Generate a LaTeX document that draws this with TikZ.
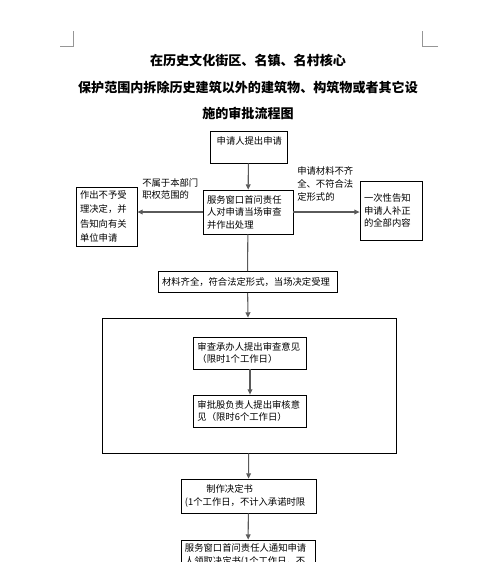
\documentclass[tikz,border=0pt]{standalone}
\usepackage{fontspec}
\newfontfamily\cjk{Noto Sans CJK SC}
\definecolor{linegray}{RGB}{90,90,90}
\definecolor{markgray}{RGB}{150,150,150}
\usetikzlibrary{arrows.meta,positioning}

\begin{document}
\begin{tikzpicture}[x=0.75pt, y=-0.75pt,
  box/.style n args={2}{draw=black, line width=0.6pt, inner xsep=3pt, inner ysep=1pt,
    minimum width=#1*0.75pt, minimum height=#2*0.75pt,
    text width=#1*0.75pt-6pt, align=left,
    font=\cjk\fontsize{7}{9.4}\selectfont},
  note/.style={inner sep=0pt, align=left, font=\cjk\fontsize{7}{9.4}\selectfont},
  flow/.style={-{Triangle[length=4pt,width=3.6pt]}, linegray, line width=0.8pt},
  link/.style={linegray, line width=0.8pt}]

% Page
\useasboundingbox (0,0) rectangle (495,562);
\clip (0,0) rectangle (495,562);

% Corner marks
\draw[markgray] (60,46) -- (73,46) -- (73,31);
\draw[markgray] (438,46) -- (422,46) -- (422,31);

% Title
\node[font=\cjk\bfseries\fontsize{9.8}{20}\selectfont, align=center] (title) at (248,87)
  {在历史文化街区、名镇、名村核心\\保护范围内拆除历史建筑以外的建筑物、构筑物或者其它设\\施的审批流程图};

% Application and first check
\node[box={77}{32}] (apply) at (248.5,147) {\hspace*{2pt}申请人提出申请\\\mbox{}};
\node[box={90}{44}] (window) at (248,212) {服务窗口首问责任\\人对申请当场审查\\并作出处理};
\node[box={61}{59}, font=\cjk\fontsize{7}{10.9}\selectfont] (reject) at (106.5,216.5)
  {作出不予受\\理决定，并\\告知向有关\\单位申请};
\node[box={62}{59}] (notify) at (391,210.5) {一次性告知\\申请人补正\\的全部内容};

% Side labels
\node[note, anchor=north west] (outscope) at (142,178) {不属于本部门\\职权范围的};
\node[note, anchor=north west, font=\cjk\fontsize{7}{10}\selectfont] (incomplete) at (297,166)
  {申请材料不齐\\全、不符合法\\定形式的};

% Acceptance
\node[box={179}{21}] (accept) at (247.5,282) {材料齐全，符合法定形式，当场决定受理};

% Review block
\node[draw=black, line width=0.6pt, inner sep=0pt,
      minimum width=294*0.75pt, minimum height=135*0.75pt] (review) at (249,385.5) {};
\node[box={113}{32}] (check) at (250,353) {审查承办人提出审查意见\\（限时1个工作日）};
\node[box={113}{32}] (audit) at (250,411) {审批股负责人提出审核意\\见（限时6个工作日）};

% Decision and delivery
\node[box={135}{34}] (decide) at (248.5,496) {\hspace*{16pt}制作决定书\\(1个工作日，不计入承诺时限};
\node[box={134}{30}] (deliver) at (248,555) {服务窗口首问责任人通知申请\\人领取决定书(1个工作日，不};

% Connectors
\draw[flow] (apply) -- (window);
\draw[flow] (window.west) -- (window.west -| reject.east);
\draw[flow] (window.east) -- (window.east -| notify.west);
\draw[link] (window) -- (accept);
\draw[flow] (accept) -- (review);
\draw[flow] (check) -- (audit);
\draw[flow] (review) -- (decide);
\draw[flow] (decide) -- (deliver);

\end{tikzpicture}
\end{document}
